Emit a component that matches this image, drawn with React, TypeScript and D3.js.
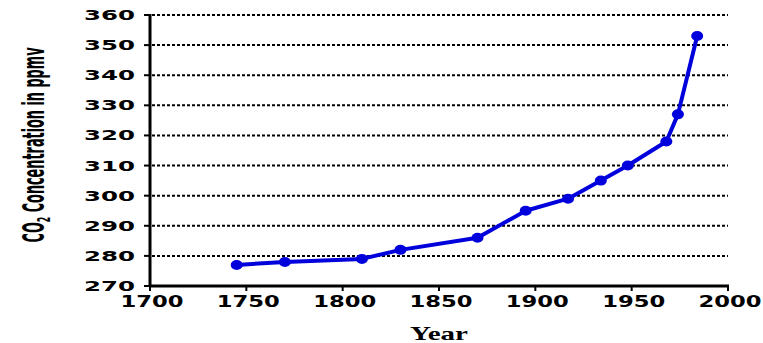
import React from "react";
import * as d3 from "d3";

const years = [1745, 1770, 1810, 1830, 1870, 1895, 1917, 1934, 1948, 1968, 1974, 1984];
const co2 = [277, 278, 279, 282, 286, 295, 299, 305, 310, 318, 327, 353];
const xTicks = [1700, 1750, 1800, 1850, 1900, 1950, 2000];
const yTicks = [270, 280, 290, 300, 310, 320, 330, 340, 350, 360];

const W = 763;
const H = 343;
const BLUE = "#0000dc";

export default function App() {
  const x = d3.scaleLinear().domain([1700, 2000]).range([150, 728]);
  const y = d3.scaleLinear().domain([270, 360]).range([286, 15]);
  const pts = years.map((yr, i) => [x(yr), y(co2[i])] as [number, number]);
  const line = d3.line()(pts) || "";
  const tickFont = "'DejaVu Sans', Verdana, sans-serif";

  return (
    <svg
      width={W}
      height={H}
      viewBox={`0 0 ${W} ${H}`}
      style={{ position: "absolute", left: 0, top: 0, background: "#fff" }}
    >
      <rect x={0} y={0} width={W} height={H} fill="#fff" />
      {/* gridlines */}
      {yTicks.slice(1).map((t) => (
        <line
          key={"g" + t}
          x1={x(1700) + 2}
          x2={x(2000)}
          y1={y(t)}
          y2={y(t)}
          stroke="#000"
          strokeWidth={2}
          strokeDasharray="3 2"
        />
      ))}
      {/* axes */}
      <line x1={x(1700)} x2={x(1700)} y1={y(360) - 1} y2={y(270) + 1} stroke="#000" strokeWidth={3} />
      <line x1={x(1700) - 1} x2={x(2000) + 1} y1={y(270)} y2={y(270)} stroke="#000" strokeWidth={3} />
      {yTicks.map((t) => (
        <g key={"y" + t}>
          <line x1={x(1700) - 6} x2={x(1700)} y1={y(t)} y2={y(t)} stroke="#000" strokeWidth={2} />
          <text
            x={135}
            y={y(t) + 5}
            textAnchor="end"
            fontFamily={tickFont}
            fontWeight="bold"
            fontSize={13.5}
            textLength={51}
            lengthAdjust="spacingAndGlyphs"
            fill="#000"
          >
            {t}
          </text>
        </g>
      ))}
      {xTicks.map((t) => (
        <g key={"x" + t}>
          <line x1={x(t)} x2={x(t)} y1={y(270)} y2={y(270) + 5} stroke="#000" strokeWidth={2} />
          <text
            x={x(t) + 2}
            y={307}
            textAnchor="middle"
            fontFamily={tickFont}
            fontWeight="bold"
            fontSize={15}
            textLength={63}
            lengthAdjust="spacingAndGlyphs"
            fill="#000"
          >
            {t}
          </text>
        </g>
      ))}
      {/* data line */}
      <path d={line} fill="none" stroke={BLUE} strokeWidth={4} strokeLinejoin="round" />
      {pts.map((p, i) => (
        <ellipse key={"p" + i} cx={p[0]} cy={p[1]} rx={6} ry={5} fill={BLUE} />
      ))}
      {/* axis titles */}
      <text
        x={439}
        y={340}
        textAnchor="middle"
        fontFamily="'Liberation Serif', 'DejaVu Serif', serif"
        fontWeight="bold"
        fontSize={19}
        textLength={58}
        lengthAdjust="spacingAndGlyphs"
        fill="#000"
      >
        Year
      </text>
      <text
        transform={`translate(44,145) rotate(-90) scale(1,2.1)`}
        textAnchor="middle"
        fontFamily="'DejaVu Sans Condensed', 'Liberation Sans Narrow', 'DejaVu Sans', sans-serif"
        fontWeight="bold"
        fontSize={14}
        textLength={195}
        lengthAdjust="spacingAndGlyphs"
        fill="#000"
      >
        CO<tspan fontSize={8.5} dy={3}>2</tspan>
        <tspan dy={-3}> Concentration in ppmv</tspan>
      </text>
    </svg>
  );
}
